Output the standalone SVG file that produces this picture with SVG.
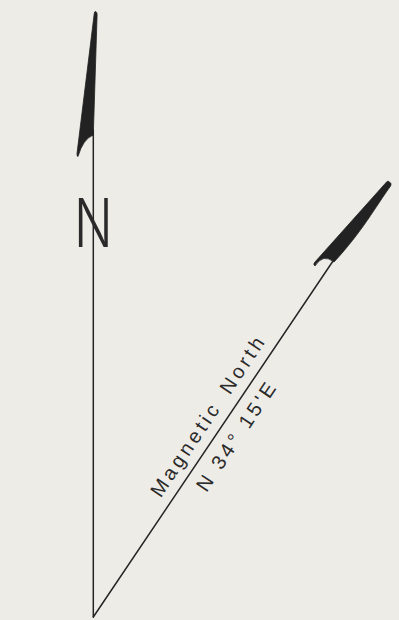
<svg xmlns="http://www.w3.org/2000/svg" width="399" height="620" viewBox="0 0 399 620">
<style>
.ln{stroke:#252525;stroke-width:1.5;fill:none;stroke-linecap:round}
.head{fill:#222;stroke:#222;stroke-width:0.8;stroke-linejoin:round}
.lbl{font-family:"Liberation Sans",Arial,sans-serif;font-size:20px;fill:#2a2a2a;letter-spacing:3.4px}
.bigN{font-family:Inter,"Liberation Sans",sans-serif;font-weight:300;font-size:67px;fill:#2a2a2a}
</style>
<rect width="399" height="620" fill="#eeece7"/>
<g id="connectors">
<line class="ln" x1="93.3" y1="130" x2="93.3" y2="617"/>
<line class="ln" x1="93.3" y1="617" x2="333" y2="261"/>
</g>
<g id="true-north">
<path class="head" d="M95.6,11.5 Q97.4,12 97.1,15 L93.3,135 Q83,139 78,156.5 Q76.8,156.5 77,153.5 L94.3,13 Q94.6,11.4 95.6,11.5 Z"/>
<text class="bigN" transform="translate(93.3,247) scale(0.76,1)" text-anchor="middle">N</text>
</g>
<g id="magnetic-north">
<path class="head" d="M389.5,182 Q392,183.5 390.6,186 C376,206 362,232 334,262 Q323,253 315,266 Q313,264.5 314.5,262.5 L387,181.5 Q388.3,180.8 389.5,182 Z"/>
<text class="lbl" transform="translate(160.8,498.5) rotate(-56.16)" style="letter-spacing:3.6px">Magnetic <tspan dx="5">North</tspan></text>
<text class="lbl" transform="translate(206.6,493) rotate(-56.16)">N 34° 15'E</text>
</g>
</svg>
